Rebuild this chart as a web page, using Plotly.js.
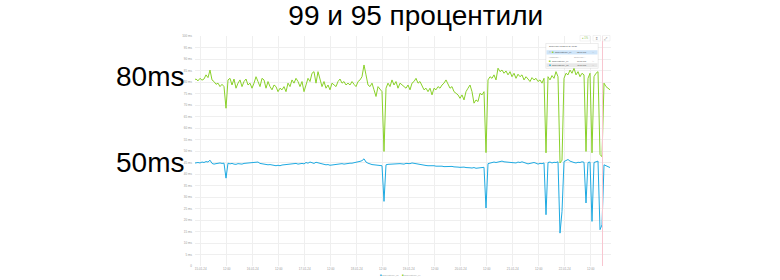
<!DOCTYPE html>
<html><head><meta charset="utf-8">
<script src="https://cdn.plot.ly/plotly-3.0.1.min.js"></script>
<style>html,body{margin:0;padding:0;background:#fff;}#chart{width:780px;height:280px;}</style>
</head><body><div id="chart"></div>
<script>
// ---------- data ----------
const slideTitle = '99 и 95 процентили';
const slideLabels = ['80ms', '50ms'];
const seriesNames = ['lbpf99latency_99', 'lbpf99latency_95'];
const seriesColors = ['#8ad12a', '#1eaae2'];
const sampleStart = Date.UTC(2024, 0, 14, 20, 54, 28);
const sampleStepMin = 55.385;

const p99 = [80.9,81.3,80.5,81.6,80.8,81.3,83.1,81.9,85.2,80.9,
80.2,79.0,79.5,78.0,79.0,78.0,68.6,80.9,81.6,78.7,
81.3,77.3,79.5,80.9,78.0,80.2,81.3,78.7,79.5,77.3,
79.5,82.3,80.2,78.0,81.6,80.9,77.3,80.2,78.0,76.6,
78.7,78.0,75.8,77.3,76.6,78.0,75.8,79.5,78.0,80.9,
79.5,81.6,80.2,78.0,80.2,75.8,78.7,81.6,80.2,83.8,
84.5,79.5,84.5,80.9,78.0,80.2,77.3,78.7,76.6,79.5,
78.7,78.0,80.2,81.3,79.5,80.2,78.7,79.5,78.7,80.2,
79.0,78.0,80.2,80.9,82.3,87.4,83.1,78.7,78.0,79.5,
76.6,73.7,78.0,76.6,75.8,49.8,77.3,79.5,78.0,80.9,
78.7,80.2,77.3,79.5,78.7,78.0,77.3,78.7,76.6,79.5,
80.2,81.6,79.5,80.2,78.0,76.6,77.3,75.8,77.3,74.4,
77.3,76.6,78.0,77.3,78.7,79.5,80.9,78.7,77.3,78.0,
75.8,75.1,74.4,72.9,74.4,72.2,75.8,77.3,78.7,75.8,
70.8,72.2,71.5,75.1,74.4,75.8,49.3,80.9,82.3,81.6,
83.1,80.9,86.0,84.5,85.2,83.8,84.8,83.1,84.5,82.3,
83.8,81.6,83.4,82.3,83.1,80.9,82.3,81.3,80.2,81.9,
80.9,81.6,80.2,80.9,79.5,81.6,49.2,82.3,80.9,82.8,
81.6,84.5,82.3,44.8,46.0,81.6,83.8,83.1,85.2,83.8,
86.0,83.1,84.5,82.3,83.8,83.1,49.8,81.6,83.8,49.2,
82.3,83.8,84.5,48.5,47.5,79.5,78.0,77.3,76.6];

const p95 = [44.7,44.9,45.0,44.8,45.2,45.0,45.4,45.2,46.0,44.6,
44.3,44.5,44.7,44.8,44.6,44.7,38.2,44.7,44.4,44.6,
44.3,44.2,44.5,44.4,44.3,44.6,44.7,44.5,44.7,44.8,
45.0,44.9,45.2,44.6,44.4,44.3,44.2,44.0,44.1,43.9,
43.8,43.6,43.8,43.6,43.9,44.0,44.2,44.3,44.1,44.4,
44.5,44.6,44.3,44.5,44.6,44.4,45.0,44.7,45.2,44.9,
44.6,45.1,44.8,44.5,44.4,44.2,44.0,44.1,43.8,43.9,
44.0,44.2,44.4,44.6,44.5,44.3,44.5,44.6,44.7,44.7,
44.8,45.1,45.3,45.5,45.8,46.6,45.2,44.7,44.3,44.1,
44.0,43.9,43.8,43.7,43.6,28.1,44.0,44.2,44.3,44.1,
44.4,44.3,44.6,44.5,44.4,44.3,44.6,44.4,44.5,44.8,
44.6,44.5,44.2,44.0,43.9,43.8,43.7,43.6,43.7,43.5,
43.6,43.4,43.5,43.3,43.4,43.2,43.3,43.4,43.2,43.3,
43.1,43.2,43.0,42.9,43.1,43.0,42.8,42.9,42.7,42.6,
42.8,42.5,42.7,42.6,42.8,42.9,25.2,44.5,44.8,45.0,
45.2,45.0,45.3,45.4,45.6,45.3,45.2,45.4,45.2,45.0,
45.1,44.8,45.2,45.0,45.3,45.1,44.8,44.4,44.6,44.8,
45.0,44.7,44.3,44.6,44.5,44.8,22.3,45.0,45.2,44.8,
45.1,45.0,45.3,14.3,23.7,45.4,45.8,46.3,45.6,45.2,
45.0,44.8,45.1,45.0,45.3,45.1,27.4,45.0,45.2,19.4,
45.0,45.3,45.6,15.8,17.9,44.0,43.6,43.3,42.8];

const xTickTimes = ['2024-01-15 00:00','2024-01-15 12:00','2024-01-16 00:00','2024-01-16 12:00',
  '2024-01-17 00:00','2024-01-17 12:00','2024-01-18 00:00','2024-01-18 12:00',
  '2024-01-19 00:00','2024-01-19 12:00','2024-01-20 00:00','2024-01-20 12:00',
  '2024-01-21 00:00','2024-01-21 12:00','2024-01-22 00:00','2024-01-22 12:00'];
const xTickLabels = ['15.01.24','12:00','16.01.24','12:00','17.01.24','12:00','18.01.24','12:00',
  '19.01.24','12:00','20.01.24','12:00','21.01.24','12:00','22.01.24','12:00'];
const yTickVals = [0,5,10,15,20,25,30,35,40,45,50,55,60,65,70,75,80,85,90,95,100];
const yTickLabels = ['0','5 ms','10 ms','15 ms','20 ms','25 ms','30 ms','35 ms','40 ms','45 ms','50 ms',
  '55 ms','60 ms','65 ms','70 ms','75 ms','80 ms','85 ms','90 ms','95 ms','100 ms'];
const xRange = ['2024-01-14 21:22', '2024-01-22 21:22'];
const cursorTime = '2024-01-22 17:27';
const tooltipHeader = 'Значения на 22.01.24 17:27';
const tooltipCols = ['Название ↑', 'Значение ↑'];
const tooltipValues = ['82.06 ms', '78.86 ms', '45.77 ms'];

// ---------- build ----------
const times = p99.map((_, i) => sampleStart + i * sampleStepMin * 60000);

const traces = [
  {x: times, y: p99, name: seriesNames[0], type: 'scatter', mode: 'lines',
   line: {color: seriesColors[0], width: 1}},
  {x: times, y: p95, name: seriesNames[1], type: 'scatter', mode: 'lines',
   line: {color: seriesColors[1], width: 1}}
];

const FONT = 'Liberation Sans, Arial, Helvetica, sans-serif';
const tickFont = {family: FONT, size: 3, color: '#999'};
const tiny = {family: FONT, size: 2.2, color: '#999'};
const tinyDark = {family: FONT, size: 2.2, color: '#444'};
const W = 416, H = 230, L = 195, T = 36;
const px = v => (v - L) / W;           // page px -> paper x
const py = v => (T + H - v) / H;       // page px -> paper y

const shapes = [
  {type: 'line', xref: 'x', yref: 'paper', x0: cursorTime, x1: cursorTime, y0: 0, y1: 1,
   line: {color: '#f8c6d0', width: 1}},
  // tooltip shadow + box
  {type: 'rect', xref: 'paper', yref: 'paper', x0: px(545.5), x1: px(598.5), y0: py(68.8), y1: py(43),
   fillcolor: 'rgba(0,0,0,0.07)', line: {width: 0}, layer: 'above'},
  {type: 'rect', xref: 'paper', yref: 'paper', x0: px(546), x1: px(598), y0: py(68), y1: py(43.5),
   fillcolor: '#ffffff', line: {color: '#e4e4e4', width: 0.5}, layer: 'above'},
  {type: 'rect', xref: 'paper', yref: 'paper', x0: px(546.5), x1: px(597.5), y0: py(54.5), y1: py(50.2),
   fillcolor: '#cfe5f9', line: {width: 0}, layer: 'above'},
  {type: 'rect', xref: 'paper', yref: 'paper', x0: px(546.5), x1: px(597.5), y0: py(67), y1: py(63.2),
   fillcolor: '#e8e8e8', line: {width: 0}, layer: 'above'},
  // top buttons
  {type: 'rect', xref: 'paper', yref: 'paper', x0: px(580), x1: px(590), y0: py(41), y1: py(35.5),
   fillcolor: '#ffffff', line: {color: '#e6e6e6', width: 0.5}},
  {type: 'rect', xref: 'paper', yref: 'paper', x0: px(593), x1: px(600.5), y0: py(41), y1: py(35.5),
   fillcolor: '#ffffff', line: {color: '#e6e6e6', width: 0.5}},
  {type: 'rect', xref: 'paper', yref: 'paper', x0: px(602.5), x1: px(610), y0: py(41), y1: py(35.5),
   fillcolor: '#ffffff', line: {color: '#e6e6e6', width: 0.5}}
];

function ann(x, y, text, font, xanchor) {
  return {xref: 'paper', yref: 'paper', x: px(x), y: py(y), text: text, showarrow: false,
          xanchor: xanchor || 'left', yanchor: 'middle', font: font, borderpad: 0};
}
const sq = c => ({family: FONT, size: 3, color: c});
const annotations = [
  {xref: 'paper', yref: 'paper', x: px(185), y: py(76), text: slideLabels[0], showarrow: false,
   xanchor: 'right', yanchor: 'middle', borderpad: 0, font: {family: FONT, size: 28, color: '#000'}},
  {xref: 'paper', yref: 'paper', x: px(185), y: py(162), text: slideLabels[1], showarrow: false,
   xanchor: 'right', yanchor: 'middle', borderpad: 0, font: {family: FONT, size: 28, color: '#000'}},
  // tooltip contents
  ann(547.5, 46.5, tooltipHeader, tinyDark),
  ann(547.5, 52.3, '☑', tiny),
  ann(550.5, 52.3, '■', sq(seriesColors[0])),
  ann(553.5, 52.3, seriesNames[0], tinyDark),
  ann(588, 52.3, tooltipValues[0], tinyDark, 'right'),
  ann(590.5, 52.3, '↑↓', tiny),
  ann(547.5, 57, tooltipCols[0], tiny),
  ann(586, 57, tooltipCols[1], tiny, 'right'),
  ann(548, 61, '■', sq(seriesColors[0])),
  ann(551, 61, seriesNames[0], tinyDark),
  ann(588, 61, tooltipValues[1], tinyDark, 'right'),
  ann(590.5, 61, '↑↓', tiny),
  ann(548, 65.2, '■', sq(seriesColors[1])),
  ann(551, 65.2, seriesNames[1], tinyDark),
  ann(588, 65.2, tooltipValues[2], tinyDark, 'right'),
  ann(590.5, 65.2, '↑↓', tiny),
  // top buttons
  ann(585, 38.3, '● 1%', {family: FONT, size: 2.6, color: '#8bc34a'}, 'center'),
  ann(596.7, 38.3, '⇕', {family: FONT, size: 4, color: '#888'}, 'center'),
  ann(606.2, 38.3, '⤢', {family: FONT, size: 4, color: '#888'}, 'center'),
  // bottom legend
  ann(378.5, 275.2, '■', sq(seriesColors[1])),
  ann(381.3, 275.2, seriesNames[1], tiny),
  ann(400.5, 275.2, '■', sq(seriesColors[0])),
  ann(403.3, 275.2, seriesNames[0], tiny)
];

const layout = {
  width: 780, height: 280,
  margin: {l: L, r: 780 - L - W, t: T, b: 280 - T - H, pad: 0},
  paper_bgcolor: '#ffffff', plot_bgcolor: '#ffffff',
  showlegend: false,
  title: {text: slideTitle, x: 0.533, xref: 'container', xanchor: 'center',
          y: 0.944, yref: 'container', yanchor: 'middle',
          font: {family: FONT, size: 28, color: '#000'}},
  xaxis: {type: 'date', range: xRange, tickmode: 'array', tickvals: xTickTimes, ticktext: xTickLabels,
          showgrid: true, gridcolor: '#efefef', gridwidth: 1, zeroline: false, showline: false,
          ticks: '', tickfont: tickFont, ticklabelstandoff: 0},
  yaxis: {range: [0, 100], tickmode: 'array', tickvals: yTickVals, ticktext: yTickLabels,
          showgrid: true, gridcolor: '#efefef', gridwidth: 1, zeroline: false, showline: false,
          ticks: '', tickfont: tickFont, ticklabelstandoff: 2},
  shapes: shapes,
  annotations: annotations,
  hovermode: false
};

Plotly.newPlot('chart', traces, layout, {staticPlot: true, displayModeBar: false});
</script></body></html>
